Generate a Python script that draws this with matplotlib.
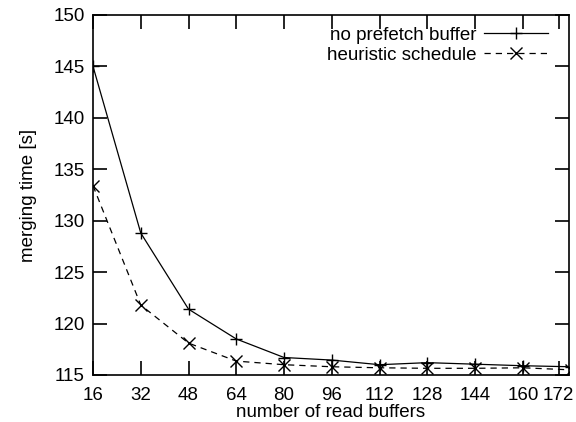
import matplotlib
matplotlib.use("Agg")
import matplotlib.pyplot as plt

plt.rcParams['font.family'] = ['Liberation Sans', 'DejaVu Sans']

buffers = [16, 32, 48, 64, 80, 96, 112, 128, 144, 160, 176]
no_prefetch = [145.0, 128.8, 121.4, 118.5, 116.7, 116.45, 116.0, 116.2, 116.05, 115.9, 115.8]
heuristic = [133.4, 121.8, 118.1, 116.35, 116.0, 115.8, 115.7, 115.65, 115.65, 115.7, 115.5]

xticks = [16, 32, 48, 64, 80, 96, 112, 128, 144, 160, 172]
yticks = [115, 120, 125, 130, 135, 140, 145, 150]

fig = plt.figure(figsize=(5.76, 4.22), dpi=100)
ax = fig.add_axes([0.1615, 0.1114, 0.8265, 0.8531])

ax.plot(buffers, no_prefetch, color='black', lw=0.9, marker='+', ms=9, mew=1.0,
        label='no prefetch buffer')
ax.plot(buffers, heuristic, color='black', lw=0.9, ls=(0, (5, 4)), marker='x', ms=8, mew=1.0,
        label='heuristic schedule')

ax.set_xlim(16, 175.5)
ax.set_ylim(115, 150)
ax.set_xticks(xticks)
ax.set_yticks(yticks)
ax.tick_params(direction='in', length=10, width=1.2, top=True, right=True,
               labelsize=13.5, pad=6)
ax.tick_params(axis='x', pad=9)
for s in ax.spines.values():
    s.set_linewidth(1.2)

ax.set_xlabel('number of read buffers', fontsize=13.5, labelpad=0)
ax.set_ylabel('merging time [s]', fontsize=13.5, labelpad=12)

ax.legend(loc='upper right', frameon=False, markerfirst=False, fontsize=13.5,
          handlelength=3.4, handletextpad=0.4, labelspacing=0.15,
          borderaxespad=0.2, borderpad=0.3,
          bbox_to_anchor=(0.975, 0.993))

fig.savefig('out.png', dpi=100)
